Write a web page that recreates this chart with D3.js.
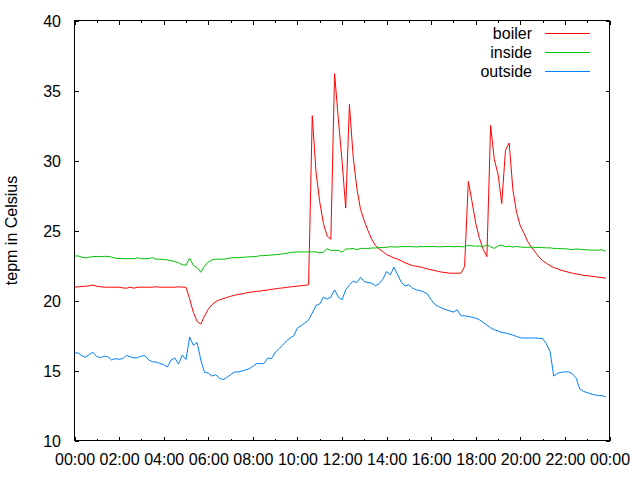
<!DOCTYPE html>
<html><head><meta charset="utf-8">
<script src="https://cdn.jsdelivr.net/npm/d3@7"></script>
<style>
html,body{margin:0;padding:0;background:#fff;}
svg{display:block;}
text{font-family:"Liberation Sans",Arial,sans-serif;font-size:16px;fill:#000;}
</style></head><body>
<svg id="chart" width="640" height="480"></svg>
<script>
const times = [
"00:00","00:10","00:20","00:30","00:40","00:50","01:00","01:10","01:20","01:30","01:40","01:50",
"02:00","02:10","02:20","02:30","02:40","02:50","03:00","03:10","03:20","03:30","03:40","03:50",
"04:00","04:10","04:20","04:30","04:40","04:50","05:00","05:10","05:20","05:30","05:40","05:50",
"06:00","06:10","06:20","06:30","06:40","06:50","07:00","07:10","07:20","07:30","07:40","07:50",
"08:00","08:10","08:20","08:30","08:40","08:50","09:00","09:10","09:20","09:30","09:40","09:50",
"10:00","10:10","10:20","10:30","10:40","10:50","11:00","11:10","11:20","11:30","11:40","11:50",
"12:00","12:10","12:20","12:30","12:40","12:50","13:00","13:10","13:20","13:30","13:40","13:50",
"14:00","14:10","14:20","14:30","14:40","14:50","15:00","15:10","15:20","15:30","15:40","15:50",
"16:00","16:10","16:20","16:30","16:40","16:50","17:00","17:10","17:20","17:30","17:40","17:50",
"18:00","18:10","18:20","18:30","18:40","18:50","19:00","19:10","19:20","19:30","19:40","19:50",
"20:00","20:10","20:20","20:30","20:40","20:50","21:00","21:10","21:20","21:30","21:40","21:50",
"22:00","22:10","22:20","22:30","22:40","22:50","23:00","23:10","23:20","23:30","23:40","23:50"];

const boiler = [
20.95,20.98,21.0,21.02,21.05,21.1,21.02,20.98,20.95,20.95,
20.95,20.95,20.95,20.9,20.88,20.95,20.88,20.95,20.95,20.95,
20.95,20.95,20.98,20.95,20.95,20.95,20.95,20.95,20.98,20.95,
20.95,20.1,19.15,18.5,18.32,18.9,19.38,19.7,19.92,20.05,
20.13,20.22,20.3,20.37,20.43,20.47,20.53,20.58,20.62,20.65,
20.67,20.72,20.75,20.8,20.83,20.87,20.9,20.93,20.97,21.0,
21.03,21.06,21.08,21.12,33.2,29.2,27.05,25.5,24.6,24.37,
36.2,33.0,30.0,26.6,34.0,30.3,28.0,26.5,25.7,24.99,
24.37,23.92,23.68,23.49,23.28,23.16,23.04,22.95,22.83,22.69,
22.59,22.49,22.45,22.4,22.33,22.26,22.19,22.14,22.07,22.02,
21.99,21.95,21.95,21.95,21.95,22.42,28.5,27.05,25.51,24.44,
23.66,23.13,32.5,30.07,29.03,26.93,30.73,31.25,27.9,26.27,
25.32,24.8,24.2,23.8,23.45,23.11,22.85,22.66,22.49,22.35,
22.26,22.16,22.09,22.02,21.95,21.9,21.85,21.8,21.78,21.73,
21.71,21.66,21.64,21.59];

const inside = [
23.18,23.18,23.1,23.04,23.1,23.13,23.15,23.13,23.15,23.15,
23.1,23.02,23.0,23.0,22.98,23.0,22.98,23.06,22.98,22.98,
23.0,23.06,22.95,22.95,22.92,22.9,22.85,22.78,22.7,22.55,
22.52,23.02,22.5,22.35,22.02,22.45,22.75,22.9,22.95,22.95,
22.95,22.98,23.04,23.06,23.06,23.08,23.1,23.12,23.13,23.15,
23.2,23.2,23.22,23.25,23.27,23.3,23.33,23.37,23.42,23.45,
23.47,23.47,23.47,23.47,23.47,23.47,23.4,23.45,23.7,23.58,
23.58,23.58,23.45,23.68,23.68,23.72,23.62,23.72,23.72,23.72,
23.75,23.75,23.78,23.78,23.8,23.85,23.82,23.82,23.85,23.85,
23.85,23.85,23.82,23.85,23.85,23.85,23.85,23.85,23.84,23.84,
23.86,23.86,23.84,23.86,23.84,23.84,23.94,23.9,23.88,23.9,
23.84,23.97,23.84,23.72,23.9,23.95,23.84,23.88,23.82,23.86,
23.82,23.8,23.8,23.82,23.78,23.8,23.78,23.76,23.76,23.72,
23.72,23.7,23.7,23.66,23.64,23.68,23.66,23.62,23.62,23.6,
23.6,23.6,23.62,23.52];

const outside = [
16.25,16.25,16.05,15.96,16.15,16.3,16.0,15.92,16.02,15.98,
15.75,15.85,15.8,15.85,16.08,15.98,15.89,15.92,16.04,16.05,
15.75,15.62,15.6,15.5,15.42,15.25,15.75,15.89,15.46,16.1,
15.78,17.39,16.8,17.0,15.75,14.87,14.82,14.6,14.7,14.45,
14.35,14.5,14.7,14.88,14.9,14.95,15.05,15.12,15.3,15.49,
15.49,15.49,15.89,15.84,16.29,16.55,16.8,17.1,17.32,17.48,
18.03,18.2,18.4,18.6,19.1,19.64,19.76,20.24,20.1,20.24,
20.76,20.24,20.05,20.76,21.12,21.38,21.28,21.66,21.35,21.28,
21.24,21.05,21.2,21.52,22.07,21.83,22.38,21.83,21.28,21.05,
21.12,20.88,20.76,20.71,20.6,20.47,20.05,19.72,19.57,19.45,
19.34,19.26,19.17,19.34,18.91,18.91,18.86,18.81,18.74,18.62,
18.43,18.24,18.05,17.91,17.82,17.72,17.67,17.6,17.53,17.43,
17.34,17.32,17.32,17.32,17.32,17.3,17.28,16.91,16.36,14.6,
14.8,14.87,14.9,14.9,14.77,14.47,13.68,13.51,13.42,13.33,
13.26,13.21,13.21,13.11];

const yTicks = [10, 15, 20, 25, 30, 35, 40];
const xTickLabels = ["00:00","02:00","04:00","06:00","08:00","10:00","12:00","14:00","16:00","18:00","20:00","22:00","00:00"];
const xMinorTickLabels = ["01:00","03:00","05:00","07:00","09:00","11:00","13:00","15:00","17:00","19:00","21:00","23:00"];
const seriesNames = ["boiler", "inside", "outside"];
const seriesColors = ["#ff0000", "#00c000", "#0080ff"];
const yAxisTitle = "tepm in Celsius";

const toMin = s => (+s.slice(0, 2)) * 60 + (+s.slice(3, 5));
const majorMin = xTickLabels.map((s, i) => i === xTickLabels.length - 1 ? 1440 : toMin(s));
const minorMin = xMinorTickLabels.map(toMin);

const L = 74.5, R = 609.5, T = 20.5, B = 440.5;
const x = d3.scaleLinear().domain([0, 1440]).range([L, R]);
const y = d3.scaleLinear().domain([10, 40]).range([B, T]);

const svg = d3.select("#chart");

function clean(g) { g.select(".domain").remove(); g.selectAll("line").attr("shape-rendering", "crispEdges"); }

// bottom axis
const gb = svg.append("g").attr("transform", `translate(0,${B})`)
  .call(d3.axisBottom(x).tickValues(majorMin).tickFormat((d, i) => xTickLabels[i]).tickSize(-4).tickPadding(0));
gb.selectAll("text").attr("y", 24.5).attr("dy", null);
clean(gb);
const gbm = svg.append("g").attr("transform", `translate(0,${B})`)
  .call(d3.axisBottom(x).tickValues(minorMin).tickFormat("").tickSize(-2));
clean(gbm);
// top mirror
const gt = svg.append("g").attr("transform", `translate(0,${T})`)
  .call(d3.axisTop(x).tickValues(majorMin).tickFormat("").tickSize(-4));
clean(gt);
const gtm = svg.append("g").attr("transform", `translate(0,${T})`)
  .call(d3.axisTop(x).tickValues(minorMin).tickFormat("").tickSize(-2));
clean(gtm);
// left axis
const gl = svg.append("g").attr("transform", `translate(${L},0)`)
  .call(d3.axisLeft(y).tickValues(yTicks).tickFormat(d3.format("d")).tickSize(-4).tickPadding(13.5));
gl.selectAll("text").attr("dy", null).attr("y", 5.5);
clean(gl);
// right mirror
const gr = svg.append("g").attr("transform", `translate(${R},0)`)
  .call(d3.axisRight(y).tickValues(yTicks).tickFormat("").tickSize(-4));
clean(gr);

// border
svg.append("rect").attr("x", L).attr("y", T).attr("width", R - L).attr("height", B - T)
  .attr("fill", "none").attr("stroke", "#000").attr("shape-rendering", "crispEdges");

// y title
svg.append("text").attr("transform", `translate(17,${(T + B) / 2}) rotate(-90)`)
  .attr("text-anchor", "middle").text(yAxisTitle);

// series
const seriesValues = [boiler, inside, outside];
const line = d3.line().x(d => x(d.t)).y(d => y(d.v));
seriesValues.forEach((vals, k) => {
  const pts = vals.map((v, i) => ({ t: toMin(times[i]), v }));
  svg.append("path").datum(pts).attr("d", line).attr("fill", "none")
    .attr("stroke", seriesColors[k]).attr("stroke-width", 1);
});

// legend
seriesNames.forEach((name, k) => {
  const ry = 33.5 + k * 19;
  svg.append("text").attr("x", 532).attr("y", ry + 5.5).attr("text-anchor", "end").text(name);
  svg.append("line").attr("x1", 545).attr("x2", 589.5).attr("y1", ry).attr("y2", ry)
    .attr("stroke", seriesColors[k]).attr("shape-rendering", "crispEdges");
});
</script>
</body></html>
